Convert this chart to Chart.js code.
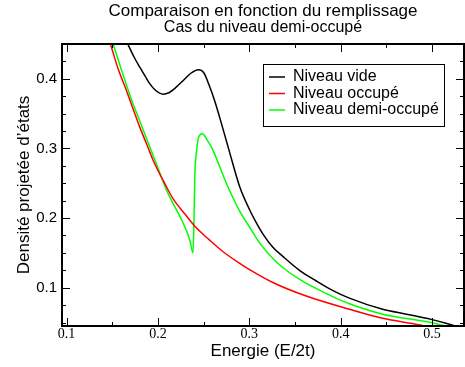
<!DOCTYPE html>
<html>
<head>
<meta charset="utf-8">
<script src="https://cdn.jsdelivr.net/npm/chart.js@4"></script>
<style>
  html, body { margin: 0; padding: 0; background: #fff; }
  #wrap { width: 465px; height: 367px; }
</style>
</head>
<body>
<div id="wrap"><canvas id="dos-chart"></canvas></div>
<script>
// valeurs
var energieVide = [0.160, 0.167, 0.174, 0.180, 0.186, 0.191, 0.197, 0.2056, 0.212, 0.220, 0.228, 0.236, 0.2445, 0.250, 0.2566, 0.262, 0.2675, 0.2777, 0.2895, 0.3003, 0.307, 0.315, 0.3258, 0.3367, 0.355, 0.373, 0.390, 0.4096, 0.446, 0.472, 0.499, 0.515, 0.530];
var dosVide     = [0.470, 0.450, 0.431, 0.417, 0.404, 0.393, 0.384, 0.378, 0.380, 0.388, 0.398, 0.408, 0.413, 0.409, 0.389, 0.369, 0.345, 0.298, 0.245, 0.212, 0.195, 0.177, 0.158, 0.145, 0.125, 0.110, 0.097, 0.085, 0.069, 0.062, 0.0545, 0.049, 0.043];

var energieOccupe = [0.145, 0.148, 0.1565, 0.1656, 0.173, 0.180, 0.1874, 0.1947, 0.2093, 0.2165, 0.230, 0.242, 0.256, 0.271, 0.2895, 0.3003, 0.3258, 0.3623, 0.4096, 0.446, 0.4825, 0.500];
var dosOccupe     = [0.462, 0.450, 0.414, 0.383, 0.356, 0.331, 0.307, 0.283, 0.245, 0.228, 0.205, 0.186, 0.169, 0.152, 0.135, 0.126, 0.1075, 0.088, 0.069, 0.056, 0.0476, 0.043];

var energieDemi = [0.148, 0.151, 0.160, 0.170, 0.182, 0.188, 0.195, 0.202, 0.2095, 0.2165, 0.2275, 0.2348, 0.2384, 0.2395, 0.2405, 0.2425, 0.2445, 0.2486, 0.254, 0.260, 0.2749, 0.2895, 0.3003, 0.312, 0.3258, 0.3367, 0.355, 0.373, 0.390, 0.4096, 0.446, 0.499, 0.515, 0.530];
var dosDemi     = [0.462, 0.450, 0.413, 0.374, 0.333, 0.3125, 0.289, 0.265, 0.240, 0.221, 0.193, 0.169, 0.150, 0.200, 0.264, 0.298, 0.316, 0.321, 0.312, 0.298, 0.250, 0.210, 0.187, 0.163, 0.142, 0.129, 0.112, 0.099, 0.088, 0.077, 0.062, 0.050, 0.045, 0.041];

var nomsSeries = ["Niveau vide", "Niveau occupé", "Niveau demi-occupé"];
var couleurs = ["#000000", "#ff0000", "#00ff00"];

function points(xs, ys) {
  return xs.map(function (x, i) { return { x: x, y: ys[i] }; });
}

function estMajeur(v) {
  return Math.abs(v * 10 - Math.round(v * 10)) < 1e-6;
}

// graduations vers l'intérieur, cadre et légende
var cadrePlugin = {
  id: "cadre",
  afterDraw: function (chart) {
    var ctx = chart.ctx;
    var a = chart.chartArea;
    var sx = chart.scales.x, sy = chart.scales.y;
    ctx.save();
    ctx.strokeStyle = "#000";
    ctx.lineWidth = 1;
    ctx.beginPath();
    sx.ticks.forEach(function (t) {
      var px = Math.round(sx.getPixelForValue(t.value)) + 0.5;
      var l = estMajeur(t.value) ? 8 : 4;
      ctx.moveTo(px, a.bottom); ctx.lineTo(px, a.bottom - l);
      ctx.moveTo(px, a.top); ctx.lineTo(px, a.top + l);
    });
    sy.ticks.forEach(function (t) {
      var py = Math.round(sy.getPixelForValue(t.value)) + 0.5;
      var l = estMajeur(t.value) ? 8 : 4;
      ctx.moveTo(a.left, py); ctx.lineTo(a.left + l, py);
      ctx.moveTo(a.right, py); ctx.lineTo(a.right - l, py);
    });
    ctx.stroke();
    ctx.lineWidth = 2;
    ctx.strokeRect(a.left, a.top, a.right - a.left, a.bottom - a.top);

    // légende
    var bx = 263, by = 64, bw = 181, bh = 62;
    ctx.fillStyle = "#fff";
    ctx.fillRect(bx, by, bw, bh);
    ctx.lineWidth = 1;
    ctx.strokeStyle = "#000";
    ctx.strokeRect(bx + 0.5, by + 0.5, bw, bh);
    ctx.font = "16px 'Liberation Sans', Arial, sans-serif";
    ctx.textBaseline = "middle";
    chart.data.datasets.forEach(function (ds, i) {
      var y = 77 + i * 16.5;
      ctx.strokeStyle = ds.borderColor;
      ctx.lineWidth = 1.5;
      ctx.beginPath();
      ctx.moveTo(269, y); ctx.lineTo(285, y);
      ctx.stroke();
      ctx.fillStyle = "#000";
      ctx.fillText(ds.label, 293, y);
    });
    ctx.restore();
  }
};

document.addEventListener("DOMContentLoaded", function () {
  var ctx = document.getElementById("dos-chart").getContext("2d");
  var chart = new Chart(ctx, {
    type: "line",
    data: {
      datasets: [
        { label: nomsSeries[0], data: points(energieVide, dosVide), borderColor: couleurs[0] },
        { label: nomsSeries[1], data: points(energieOccupe, dosOccupe), borderColor: couleurs[1] },
        { label: nomsSeries[2], data: points(energieDemi, dosDemi), borderColor: couleurs[2] }
      ]
    },
    options: {
      responsive: true,
      maintainAspectRatio: false,
      animation: false,
      devicePixelRatio: 1,
      layout: { padding: { left: 0, right: 1, top: 0, bottom: 0 } },
      elements: {
        point: { radius: 0 },
        line: { borderWidth: 1.5, cubicInterpolationMode: "monotone", fill: false }
      },
      plugins: {
        legend: { display: false },
        tooltip: { enabled: false },
        title: {
          display: true,
          fullSize: false,
          text: "Comparaison en fonction du remplissage",
          color: "#000",
          font: { family: "'Liberation Sans', Arial, sans-serif", size: 17, weight: "normal", lineHeight: 1 },
          padding: { top: 3, bottom: 0 }
        },
        subtitle: {
          display: true,
          fullSize: false,
          text: "Cas du niveau demi-occupé",
          color: "#000",
          font: { family: "'Liberation Sans', Arial, sans-serif", size: 16, weight: "normal", lineHeight: 1 },
          padding: { top: 0, bottom: 8 }
        }
      },
      scales: {
        x: {
          type: "linear",
          min: 0.095,
          max: 0.535,
          grid: { display: false, drawTicks: false },
          border: { display: false },
          ticks: {
            stepSize: 0.05,
            includeBounds: false,
            autoSkip: false,
            maxRotation: 0,
            padding: 0,
            color: "#000",
            font: { family: "'Liberation Serif', 'Times New Roman', serif", size: 14 },
            callback: function (v) { return estMajeur(v) ? v.toFixed(1) : ""; }
          },
          title: {
            display: true,
            text: "Energie (E/2t)",
            color: "#000",
            font: { family: "'Liberation Sans', Arial, sans-serif", size: 17, lineHeight: 1.2 },
            padding: { top: 0, bottom: 5 }
          },
          afterFit: function (s) { s.height = 41; }
        },
        y: {
          min: 0.045,
          max: 0.45,
          grid: { display: false, drawTicks: false },
          border: { display: false },
          ticks: {
            stepSize: 0.025,
            includeBounds: false,
            autoSkip: false,
            padding: 5,
            color: "#000",
            font: { family: "'Liberation Sans', Arial, sans-serif", size: 15 },
            callback: function (v) { return estMajeur(v) ? v.toFixed(1) : ""; }
          },
          title: {
            display: true,
            text: "Densité projetée d’états",
            color: "#000",
            font: { family: "'Liberation Sans', Arial, sans-serif", size: 17, lineHeight: 1.2 },
            padding: { top: 14, bottom: 0 }
          },
          afterFit: function (s) { s.width = 62; }
        }
      }
    },
    plugins: [cadrePlugin]
  });
});
</script>
</body>
</html>
